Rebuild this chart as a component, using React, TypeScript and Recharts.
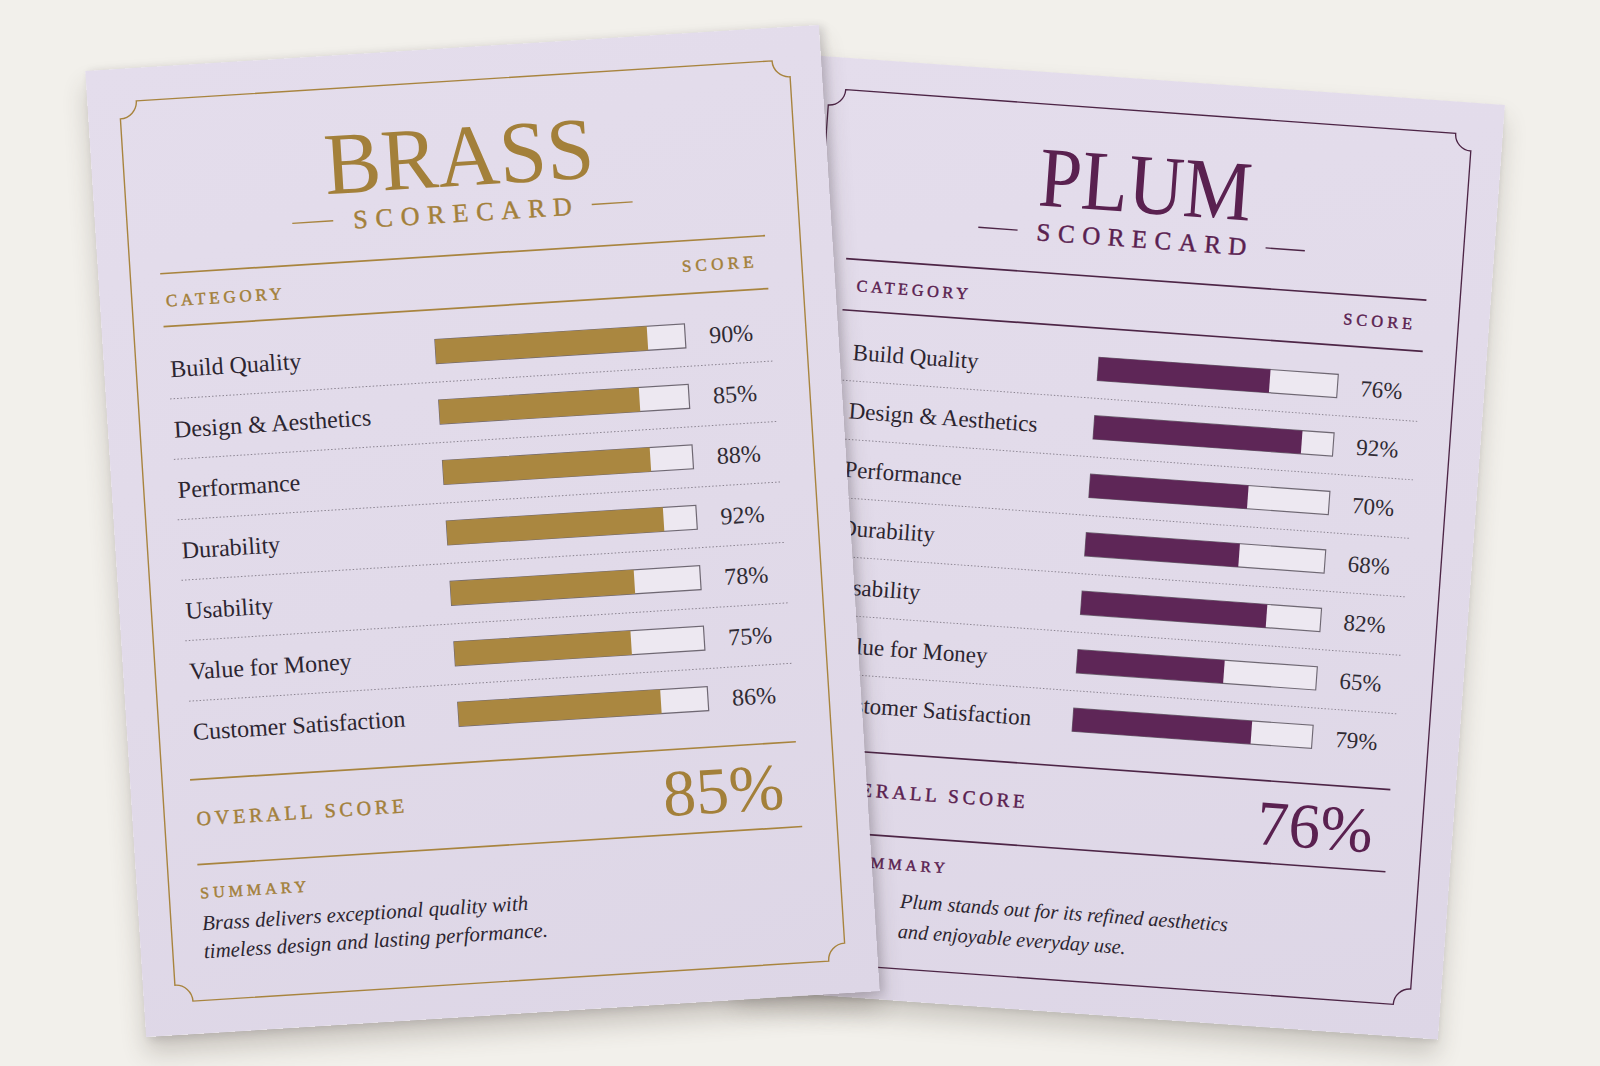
import { BarChart, Bar, XAxis, YAxis, CartesianGrid } from "recharts";

const categories = [
  "Build Quality",
  "Design & Aesthetics",
  "Performance",
  "Durability",
  "Usability",
  "Value for Money",
  "Customer Satisfaction",
];
const brassScores = [90, 85, 88, 92, 78, 75, 86];
const plumScores = [76, 92, 70, 68, 82, 65, 79];
const brassOverall = 85;
const plumOverall = 76;
const brassSummary = ["Brass delivers exceptional quality with", "timeless design and lasting performance."];
const plumSummary = ["Plum stands out for its refined aesthetics", "and enjoyable everyday use."];
const scoreMax = 106;

const SERIF = '"Liberation Serif", "DejaVu Serif", serif';
const W = 735;
const H = 968;

type Theme = {
  accent: string;
  bar: string;
  line: string;
  title: string;
  titleLen: number;
  labelX: number;
  catX: number;
  overallX: number;
  summaryX: number;
  summaryTextX: number;
  summaryY: number[];
};

const brassTheme: Theme = {
  accent: "#a3803a",
  bar: "#aa8740",
  line: "#a8843e",
  title: "BRASS",
  titleLen: 270,
  labelX: 6,
  catX: 66,
  overallX: 64,
  summaryX: 63,
  summaryTextX: 63,
  summaryY: [865, 893],
};

const plumTheme: Theme = {
  accent: "#5a2150",
  bar: "#5e2657",
  line: "#4d2546",
  title: "PLUM",
  titleLen: 222,
  labelX: 16,
  catX: 75,
  overallX: 80,
  summaryX: 104,
  summaryTextX: 166,
  summaryY: [872, 903],
};

function frame() {
  const x0 = 32, y0 = 33, x1 = W - 32, y1 = H - 33, r = 17;
  return `M${x0 + r},${y0} L${x1 - r},${y0} A${r},${r} 0 0 0 ${x1},${y0 + r} L${x1},${y1 - r} A${r},${r} 0 0 0 ${x1 - r},${y1} L${x0 + r},${y1} A${r},${r} 0 0 0 ${x0},${y1 - r} L${x0},${y0 + r} A${r},${r} 0 0 0 ${x0 + r},${y0} Z`;
}

function LabelTick(props: any) {
  const { y, payload, labelX } = props;
  return (
    <text x={labelX} y={y} dy="0.36em" fill="#2c2530" fontFamily={SERIF} fontSize={24}>
      {payload.value}
    </text>
  );
}

function Scorecard({ theme, scores, overall, summary }: { theme: Theme; scores: number[]; overall: number; summary: string[] }) {
  const data = categories.map((name, i) => ({ name, score: scores[i] }));
  const pct = (name: string) => `${scores[categories.indexOf(name)]}%`;
  // small caps headings get a hairline stroke so they read a bit heavier, like the foil print
  const caps = { fontFamily: SERIF, fill: theme.accent, stroke: theme.accent, strokeWidth: 0.45 };

  return (
    <>
      <svg width={W} height={H} style={{ position: "absolute", left: 0, top: 0 }}>
        <path d={frame()} fill="none" stroke={theme.line} strokeWidth={1.4} />
        <text x={W / 2} y={138} textAnchor="middle" fontFamily={SERIF} fontSize={88} fill={theme.accent}
          textLength={theme.titleLen} lengthAdjust="spacingAndGlyphs">
          {theme.title}
        </text>
        <line x1={197} x2={238} y1={165} y2={165} stroke={theme.line} strokeWidth={1.4} />
        <line x1={497} x2={538} y1={165} y2={165} stroke={theme.line} strokeWidth={1.4} />
        <text x={258} y={174} fontSize={26} {...caps} textLength={219} lengthAdjust="spacing">
          SCORECARD
        </text>
        <line x1={62} x2={668} y1={207} y2={207} stroke={theme.line} strokeWidth={1.7} />
        <text x={theme.catX} y={240} fontSize={17} {...caps} textLength={116} lengthAdjust="spacing">
          CATEGORY
        </text>
        <text x={583} y={238} fontSize={17} {...caps} textLength={72} lengthAdjust="spacing">
          SCORE
        </text>
        <line x1={62} x2={668} y1={260} y2={260} stroke={theme.line} strokeWidth={1.7} />
        <line x1={60} x2={667} y1={714} y2={714} stroke={theme.line} strokeWidth={1.7} />
        <text x={theme.overallX} y={760} fontSize={20} {...caps} textLength={208} lengthAdjust="spacing">
          OVERALL SCORE
        </text>
        <text x={652} y={780} textAnchor="end" fontFamily={SERIF} fontSize={66} fill={theme.accent}>
          {overall}%
        </text>
        <line x1={62} x2={668} y1={799} y2={799} stroke={theme.line} strokeWidth={1.7} />
        <text x={theme.summaryX} y={833} fontSize={16} {...caps} textLength={106} lengthAdjust="spacing">
          SUMMARY
        </text>
        {summary.map((s, i) => (
          <text key={s} x={theme.summaryTextX} y={theme.summaryY[i]} fontFamily={SERIF} fontStyle="italic" fontSize={21} fill="#2c2530">
            {s}
          </text>
        ))}
      </svg>
      <div style={{ position: "absolute", left: 60, top: 272 }}>
        <BarChart width={612} height={424} data={data} layout="vertical" margin={{ top: 0, right: 0, bottom: 0, left: 0 }} barSize={24}>
          <CartesianGrid
            vertical={false}
            horizontalCoordinatesGenerator={({ offset }: any) =>
              data.slice(1).map((_, i) => offset.top + (offset.height * (i + 1)) / data.length)
            }
            horizontal={(p: any) => (
              <line key={p.key ?? p.index} x1={p.x1 - 268} x2={p.x2 + 86} y1={p.y1} y2={p.y2}
                stroke="#8c8592" strokeWidth={1} strokeDasharray="1.5 2" />
            )}
          />
          <XAxis type="number" domain={[0, scoreMax]} hide />
          <YAxis type="category" dataKey="name" width={272} axisLine={false} tickLine={false} interval={0}
            tick={<LabelTick labelX={theme.labelX} />} />
          <YAxis yAxisId="score" orientation="right" type="category" dataKey="name" width={90} axisLine={false}
            tickLine={false} tickSize={0} tickMargin={24} interval={0} tickFormatter={pct}
            tick={{ fill: "#2f2a33", fontSize: 24, fontFamily: SERIF }} />
          <Bar dataKey="score" fill={theme.bar} isAnimationActive={false}
            background={{ fill: "#ede8f1", stroke: "#6f6873", strokeWidth: 1.2 }} />
        </BarChart>
      </div>
    </>
  );
}

const paper = "linear-gradient(165deg, #e4ddec 0%, #e1dae9 55%, #ddd6e6 100%)";

export default function App() {
  return (
    <div style={{ position: "absolute", left: 0, top: 0, width: 1600, height: 1066, overflow: "hidden", background: "#f2f0eb" }}>
      <div style={{
        position: "absolute", left: 751.7, top: 63.3, width: W, height: H, background: paper,
        transform: "rotate(4.1deg) scale(0.96, 0.968)",
        boxShadow: "0 16px 24px rgba(70,60,50,0.22), 0 3px 6px rgba(0,0,0,0.08)",
      }}>
        <Scorecard theme={plumTheme} scores={plumScores} overall={plumOverall} summary={plumSummary} />
      </div>
      <div style={{
        position: "absolute", left: 114.7, top: 46.9, width: W, height: H, background: paper,
        transform: "rotate(-3.6deg)",
        boxShadow: "0 16px 24px rgba(70,60,50,0.24), 4px 2px 8px rgba(40,30,50,0.16)",
      }}>
        <Scorecard theme={brassTheme} scores={brassScores} overall={brassOverall} summary={brassSummary} />
      </div>
    </div>
  );
}
